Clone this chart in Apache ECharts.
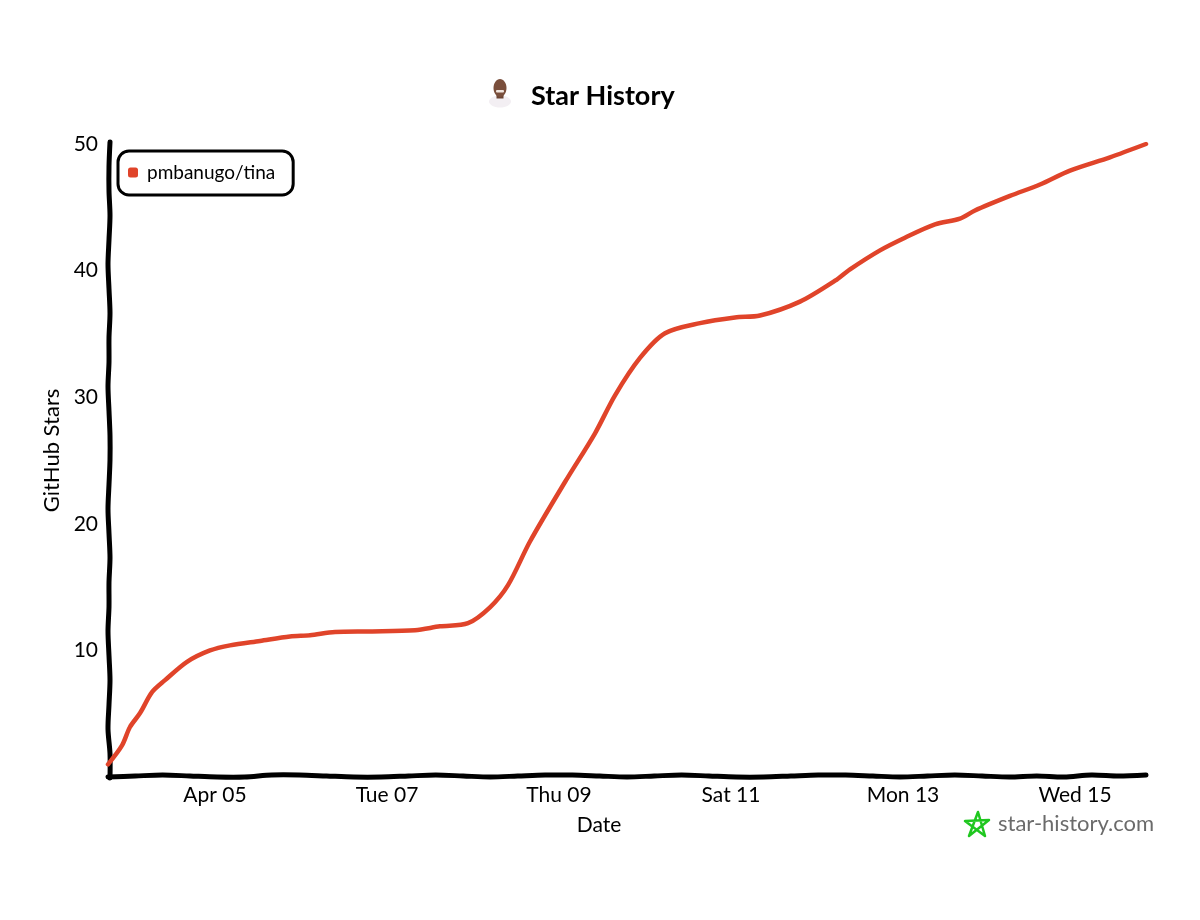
<!DOCTYPE html>
<html>
<head>
<meta charset="utf-8">
<title>Star History</title>
<script src="https://cdn.jsdelivr.net/npm/echarts@6/dist/echarts.min.js"></script>
<style>
  html, body { margin: 0; background: #fff; }
  #chart { width: 1200px; height: 920px; }
</style>
</head>
<body>
<div id="chart"></div>
<script>
const repoName = 'pmbanugo/tina';

const starDates = [
  '2026-04-03T18:08Z', '2026-04-03T22:03Z', '2026-04-04T00:16Z', '2026-04-04T03:05Z', '2026-04-04T06:25Z',
  '2026-04-04T10:03Z', '2026-04-04T16:11Z', '2026-04-04T22:36Z', '2026-04-05T04:11Z', '2026-04-05T12:33Z',
  '2026-04-05T20:56Z', '2026-04-06T02:31Z', '2026-04-06T09:29Z', '2026-04-06T19:15Z', '2026-04-07T07:49Z',
  '2026-04-07T14:47Z', '2026-04-07T22:36Z', '2026-04-08T04:44Z', '2026-04-08T09:46Z', '2026-04-08T15:54Z',
  '2026-04-09T01:40Z', '2026-04-09T10:03Z', '2026-04-09T15:38Z', '2026-04-09T22:36Z', '2026-04-10T05:35Z',
  '2026-04-10T15:21Z', '2026-04-11T01:07Z', '2026-04-11T08:05Z', '2026-04-11T19:15Z', '2026-04-12T05:02Z',
  '2026-04-12T09:13Z', '2026-04-12T17:35Z', '2026-04-13T00:33Z', '2026-04-13T08:56Z', '2026-04-13T15:54Z',
  '2026-04-13T20:05Z', '2026-04-14T05:51Z', '2026-04-14T14:14Z', '2026-04-14T22:36Z', '2026-04-15T09:46Z',
  '2026-04-15T19:49Z'
];
const starCounts = [
  1.0, 2.5, 3.95, 5.05, 6.7,
  7.65, 9.1, 10.0, 10.4, 10.75,
  11.1, 11.2, 11.45, 11.5, 11.6,
  11.9, 12.15, 13.4, 15.15, 18.6,
  23.3, 27.15, 30.15, 33.1, 35.05,
  35.85, 36.3, 36.45, 37.55, 39.2,
  40.1, 41.6, 42.6, 43.65, 44.1,
  44.75, 45.9, 46.8, 47.9, 48.95,
  50.0
];
const xTickDates = ['2026-04-05', '2026-04-07', '2026-04-09', '2026-04-11', '2026-04-13', '2026-04-15'];
const xTickLabels = ['Apr 05', 'Tue 07', 'Thu 09', 'Sat 11', 'Mon 13', 'Wed 15'];
const yTickValues = [10, 20, 30, 40, 50];

const FONT = 'Lato';
const INK = '#000';
const RED = '#e0442a';

const chart = echarts.init(document.getElementById('chart'), null, { renderer: 'canvas' });

// Pixel offsets that give the axis lines their hand drawn wobble
const xWobble = [1, 0, -1, 0, 1, 1, -1, -1, 0, 1, 1, 0, -1, 0, 1, 0, -1, -1, 0, 1, 0, -1, 0, 1, 1, 0, -1, -1, 0, 1, 0, -1, 0, 1, 0, 1, -1, 0, -1];
const yWobble = [1, 0, 0, 1, 0, -1, 0, 1, 0, 0, -1, 0, 1, 1, 0, -1, 0, 1, 0, 0, -1, 0, 1, 0, -1, 1, 1];

function wobblyLine(from, to, wobble, horizontal) {
  const n = wobble.length - 1;
  return wobble.map(function (off, i) {
    const p = from + (to - from) * i / n;
    return horizontal ? [p, 776 + off] : [109 + off, p];
  });
}

// The x axis is a plain value axis over timestamps, so its ticks can sit on the listed days
const toTime = function (d) { return Date.parse(d); };
const xTickTimes = xTickDates.map(function (d) { return toTime(d + 'T00:00Z'); });

chart.setOption({
  backgroundColor: '#fff',
  animation: false,
  textStyle: { fontFamily: FONT, color: INK },
  title: {
    text: 'Star History',
    left: 526,
    top: 78,
    textStyle: { fontFamily: FONT, fontSize: 27, fontWeight: 'bold', color: INK }
  },
  legend: {
    left: 118,
    top: 151,
    padding: [12, 18, 13, 10],
    icon: 'roundRect',
    itemWidth: 10,
    itemHeight: 10,
    itemGap: 0,
    borderColor: INK,
    borderWidth: 3,
    borderRadius: 11,
    textStyle: { fontFamily: FONT, fontSize: 19, color: INK, padding: [0, 0, 0, 4] },
    data: [repoName]
  },
  grid: { left: 108, right: 54, top: 144, bottom: 143, containLabel: false },
  xAxis: {
    type: 'value',
    scale: true,
    min: toTime(starDates[0]),
    max: toTime(starDates[starDates.length - 1]),
    name: 'Date',
    nameLocation: 'middle',
    nameGap: 38,
    nameTextStyle: { fontFamily: FONT, fontSize: 21, color: INK, padding: [0, 56, 0, 0] },
    axisLine: { show: false },
    axisTick: { show: false },
    splitLine: { show: false },
    axisLabel: {
      customValues: xTickTimes,
      fontFamily: FONT,
      fontSize: 21,
      color: INK,
      margin: 8,
      formatter: function (value) {
        return xTickLabels[xTickTimes.indexOf(value)];
      }
    }
  },
  yAxis: {
    type: 'value',
    min: 0,
    max: 50,
    name: 'GitHub Stars',
    nameLocation: 'middle',
    nameGap: 42,
    nameTextStyle: { fontFamily: FONT, fontSize: 22, color: INK, padding: [0, 0, 0, 20] },
    axisLine: { show: false },
    axisTick: { show: false },
    splitLine: { show: false },
    axisLabel: {
      customValues: yTickValues,
      fontFamily: FONT,
      fontSize: 21,
      color: INK,
      margin: 10
    }
  },
  series: [{
    name: repoName,
    type: 'line',
    smooth: 0.3,
    showSymbol: false,
    symbol: 'none',
    z: 5,
    itemStyle: { color: RED, borderRadius: 3 },
    lineStyle: { color: RED, width: 4.5, cap: 'round' },
    data: starDates.map(function (d, i) { return [toTime(d), starCounts[i]]; })
  }],
  graphic: [
    // axis lines
    {
      type: 'polyline', z: 3,
      shape: { points: wobblyLine(108, 1146, xWobble, true), smooth: 0.3 },
      style: { fill: null, stroke: INK, lineWidth: 5, lineCap: 'round' }
    },
    {
      type: 'polyline', z: 3,
      shape: { points: wobblyLine(142, 778, yWobble, false), smooth: 0.3 },
      style: { fill: null, stroke: INK, lineWidth: 5, lineCap: 'round' }
    },
    // avatar next to the title
    {
      type: 'group', left: 489, top: 79,
      children: [
        { type: 'ellipse', shape: { cx: 12, cy: 23, rx: 11, ry: 6 }, style: { fill: '#f3eff3' } },
        { type: 'rect', shape: { x: 8.5, y: 14, width: 7, height: 6 }, style: { fill: '#6b4433' } },
        { type: 'ellipse', shape: { cx: 12, cy: 9.5, rx: 6.5, ry: 9 }, style: { fill: '#7a4f3c' } },
        { type: 'rect', shape: { x: 8, y: 11.5, width: 8, height: 2.5, r: 1 }, style: { fill: '#f1e6df' } }
      ]
    },
    // star-history.com watermark
    {
      type: 'polygon', z: 6,
      shape: { points: [[978, 812], [985, 836], [965, 821], [989, 820], [969, 836]] },
      style: { fill: null, stroke: '#1fc71f', lineWidth: 2.5, lineJoin: 'round' }
    },
    {
      type: 'text', z: 6, left: 998, top: 813,
      style: { text: 'star-history.com', fontFamily: FONT, fontSize: 22, fill: '#6b6b6b' }
    }
  ]
});

window.addEventListener('resize', function () { chart.resize(); });
</script>
</body>
</html>
